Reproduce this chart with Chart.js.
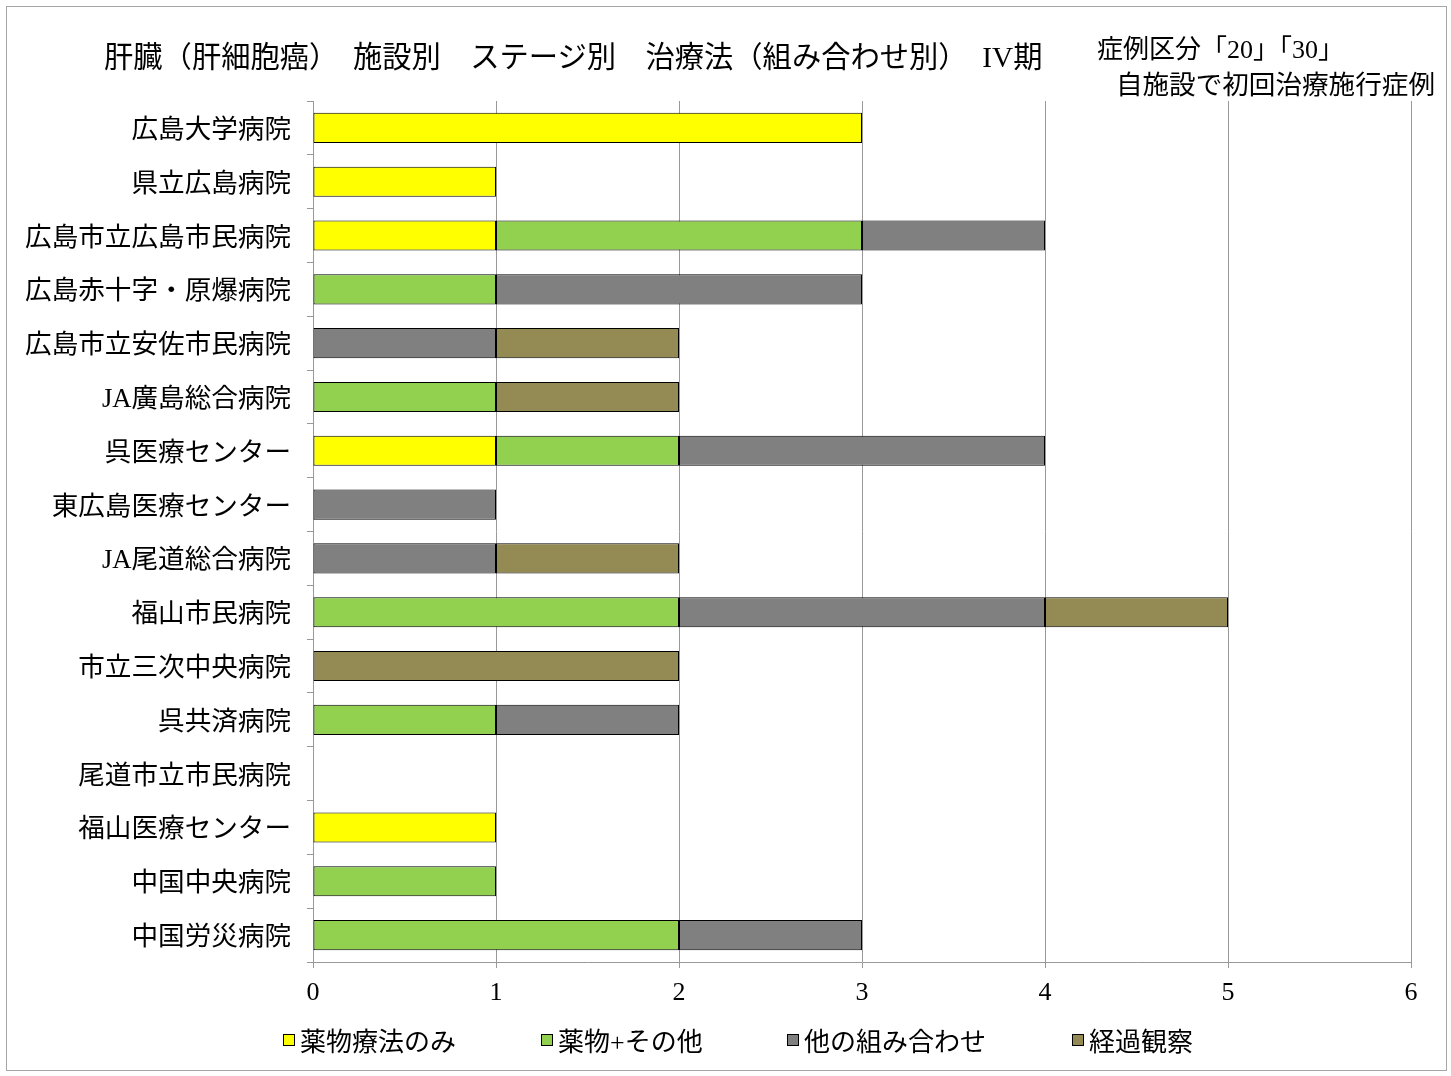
<!DOCTYPE html>
<html lang="ja">
<head>
<meta charset="utf-8">
<script src="https://cdn.jsdelivr.net/npm/chart.js@4/dist/chart.umd.min.js"></script>
<style>
  html, body { margin: 0; padding: 0; background: #fff; }
  body { font-family: 'Liberation Serif', 'Noto Sans CJK JP', sans-serif; }
  .wrap { position: relative; width: 1451px; height: 1076px; }
  .frame { position: absolute; left: 6px; top: 6px; width: 1439px; height: 1063px; border: 1px solid #a6a6a6; pointer-events: none; }
  canvas { position: absolute; left: 0; top: 0; }
  .title { position: absolute; left: 104px; top: 33px; font-size: 29.3px; white-space: nowrap; color: #000; }
  .note1 { position: absolute; left: 1097px; top: 28px; font-size: 26px; white-space: nowrap; }
  .note2 { position: absolute; right: 16px; top: 63px; font-size: 26.6px; white-space: nowrap; }
  .legend-item { position: absolute; top: 1021px; font-size: 26px; white-space: nowrap; display: flex; align-items: center; }
  .legend-item i { display: inline-block; width: 10px; height: 10px; border: 1px solid #000; margin-right: 5px; }
</style>
</head>
<body>
<div class="wrap">
  <canvas id="chart" width="1451" height="1076"></canvas>
  <div class="title">肝臓（肝細胞癌）　施設別　ステージ別　治療法（組み合わせ別）　IV期</div>
  <div class="note1">症例区分「20」「30」</div>
  <div class="note2">自施設で初回治療施行症例</div>
  <div id="legend"></div>
  <div class="frame"></div>
</div>
<script>
const hospitals = [
  '広島大学病院', '県立広島病院', '広島市立広島市民病院', '広島赤十字・原爆病院',
  '広島市立安佐市民病院', 'JA廣島総合病院', '呉医療センター', '東広島医療センター',
  'JA尾道総合病院', '福山市民病院', '市立三次中央病院', '呉共済病院',
  '尾道市立市民病院', '福山医療センター', '中国中央病院', '中国労災病院'
];
const seriesNames = ['薬物療法のみ', '薬物+その他', '他の組み合わせ', '経過観察'];
const drugOnly    = [3, 1, 1, 0, 0, 0, 1, 0, 0, 0, 0, 0, 0, 1, 0, 0];
const drugPlus    = [0, 0, 2, 1, 0, 1, 1, 0, 0, 2, 0, 1, 0, 0, 1, 2];
const otherCombo  = [0, 0, 1, 2, 1, 0, 2, 1, 1, 2, 0, 1, 0, 0, 0, 1];
const observation = [0, 0, 0, 0, 1, 1, 0, 0, 1, 1, 2, 0, 0, 0, 0, 0];
const xTicks = [0, 1, 2, 3, 4, 5, 6];

const colors = ['#FFFF00', '#92D050', '#808080', '#948A54'];
const values = [drugOnly, drugPlus, otherCombo, observation];
const legendX = [283, 541, 787, 1072];

const font = "'Liberation Serif', 'Noto Sans CJK JP', sans-serif";

const datasets = values.map((arr, i) => ({
  label: seriesNames[i],
  data: arr.map(v => v || null),
  backgroundColor: colors[i],
  borderColor: '#000',
  borderWidth: 1,
  borderSkipped: false,
  categoryPercentage: 1,
  barPercentage: 0.56
}));

// legend built from the same series
const legend = document.getElementById('legend');
seriesNames.forEach((name, i) => {
  const d = document.createElement('div');
  d.className = 'legend-item';
  d.style.left = legendX[i] + 'px';
  d.innerHTML = '<i style="background:' + colors[i] + '"></i>' + name;
  legend.appendChild(d);
});

new Chart(document.getElementById('chart'), {
  type: 'bar',
  data: { labels: hospitals, datasets: datasets },
  options: {
    indexAxis: 'y',
    responsive: false,
    animation: false,
    layout: { padding: { left: 0, right: 40, top: 101, bottom: 54 } },
    plugins: {
      legend: { display: false },
      tooltip: { enabled: false }
    },
    scales: {
      x: {
        stacked: true,
        min: 0,
        max: 6,
        afterBuildTicks: scale => { scale.ticks = xTicks.map(v => ({ value: v })); },
        afterFit: scale => { scale.height = 60; },
        grid: { color: '#999', lineWidth: 1, drawTicks: true, tickLength: 6, tickColor: '#999' },
        border: { color: '#999', width: 1 },
        ticks: { color: '#000', font: { family: font, size: 26 }, padding: 10 }
      },
      y: {
        stacked: true,
        afterFit: scale => { scale.width = 313; },
        grid: { drawOnChartArea: false, drawTicks: true, tickLength: 6, color: '#999', offset: true },
        border: { color: '#999', width: 1 },
        ticks: { color: '#000', font: { family: font, size: 26.6 }, padding: 16, labelOffset: 3, autoSkip: false }
      }
    }
  }
});
</script>
</body>
</html>
